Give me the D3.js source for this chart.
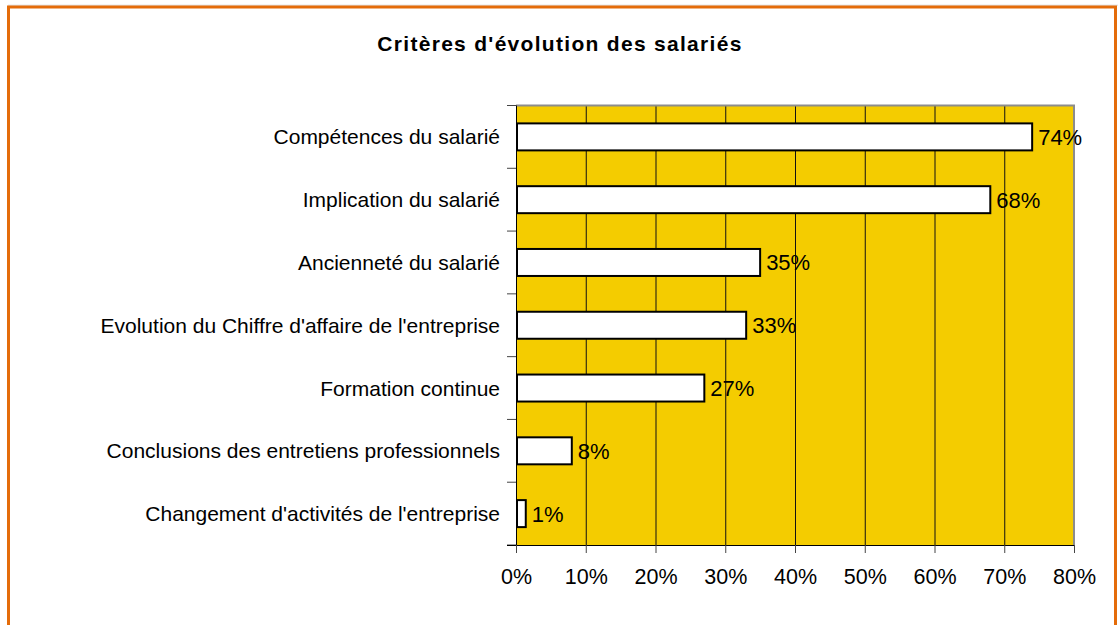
<!DOCTYPE html>
<html><head><meta charset="utf-8">
<script src="https://cdn.jsdelivr.net/npm/d3@7"></script>
<style>html,body{margin:0;padding:0;background:#fff}svg{display:block}</style>
</head><body>
<svg id="c" width="1120" height="625"></svg>
<script>
const categories = ["Compétences du salarié","Implication du salarié","Ancienneté du salarié","Evolution du Chiffre d'affaire de l'entreprise","Formation continue","Conclusions des entretiens professionnels","Changement d'activités de l'entreprise"];
const values = [74, 68, 35, 33, 27, 8, 1.4];
const valueLabels = ["74%","68%","35%","33%","27%","8%","1%"];
const xTicks = [0,10,20,30,40,50,60,70,80];
const title = "Critères d'évolution des salariés";

const svg = d3.select("#c");
const font = "Arial, 'Liberation Sans', sans-serif";
// frame
svg.append("line").attr("x1",8).attr("x2",1118).attr("y1",5.2).attr("y2",5.2).attr("stroke","#d8d8d8").attr("stroke-width",1);
svg.append("rect").attr("x",8.5).attr("y",7).attr("width",1107).attr("height",640)
  .attr("fill","none").attr("stroke","#E46C0A").attr("stroke-width",3);

const L=516, R=1074, T=105.5, B=545;
const x = d3.scaleLinear().domain([0,80]).range([L,R]);
const y = d3.scaleBand().domain(categories).range([T,B]).paddingInner(0.57).paddingOuter(0.285);

svg.append("rect").attr("x",L).attr("y",T).attr("width",R-L).attr("height",B-T).attr("fill","#F4CC00");
// gridlines
svg.append("g").selectAll("line").data(xTicks.filter(d=>d>0 && d<80)).join("line")
  .attr("x1",d=>x(d)+0.5).attr("x2",d=>x(d)+0.5).attr("y1",T).attr("y2",B)
  .attr("stroke","#111").attr("stroke-width",1);
// plot border top/right gray
svg.append("path").attr("d",`M${L},${T}H${R}V${B}`).attr("fill","none").attr("stroke","#8c8c8c").attr("stroke-width",2);

// bars
svg.append("g").selectAll("rect").data(values).join("rect")
  .attr("x",x(0)+1).attr("y",(d,i)=>y(categories[i]))
  .attr("width",d=>x(d)-x(0)-1).attr("height",y.bandwidth())
  .attr("fill","#fff").attr("stroke","#000").attr("stroke-width",2);

// value labels
svg.append("g").selectAll("text").data(values).join("text")
  .attr("x",d=>x(d)+6).attr("y",(d,i)=>y(categories[i])+y.bandwidth()/2)
  .attr("dy","0.36em").attr("font-family",font).attr("font-size",22).attr("fill","#000")
  .text((d,i)=>valueLabels[i]);

// y axis
const step = y.step();
const bounds = d3.range(categories.length+1).map(i=>T + i*step);
svg.append("line").attr("x1",L+0.5).attr("x2",L+0.5).attr("y1",T).attr("y2",B+8).attr("stroke","#000").attr("stroke-width",1);
svg.append("g").selectAll("line").data(bounds).join("line")
  .attr("x1",507).attr("x2",L).attr("y1",d=>d).attr("y2",d=>d).attr("stroke","#444").attr("stroke-width",1);
svg.append("g").selectAll("text").data(categories).join("text")
  .attr("x",500).attr("y",d=>y(d)+y.bandwidth()/2).attr("dy","0.36em")
  .attr("text-anchor","end").attr("font-family",font).attr("font-size",21).attr("fill","#000")
  .text(d=>d);

// x axis
const xa = svg.append("g").attr("transform",`translate(0,${B})`)
  .call(d3.axisBottom(x).tickValues(xTicks).tickSize(8).tickPadding(16).tickFormat(d=>d+"%"));
xa.select(".domain").attr("d",`M507,0.5H${R}`).attr("stroke","#000");
xa.selectAll(".tick line").attr("stroke","#444");
xa.selectAll("text").attr("font-family",font).attr("font-size",21.5).attr("fill","#000");

// title
svg.append("text").attr("x",560).attr("y",51).attr("text-anchor","middle")
  .attr("font-family",font).attr("font-weight","bold").attr("font-size",21).attr("letter-spacing","1.3px")
  .attr("fill","#000").text(title);
</script>
</body></html>
